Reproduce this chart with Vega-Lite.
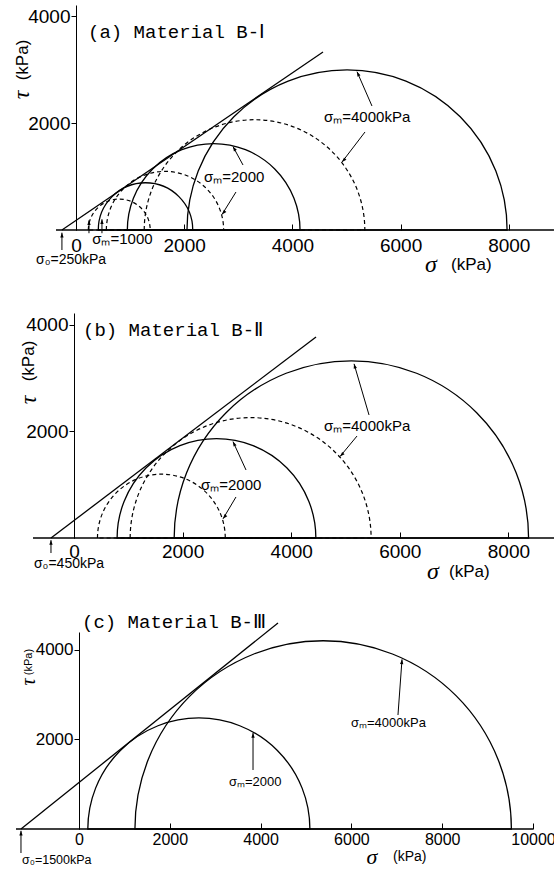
{
  "$schema": "https://vega.github.io/schema/vega-lite/v6.json",
  "background": "white",
  "padding": {"left": 10, "top": 5, "right": 0, "bottom": 0},
  "bounds": "flush",
  "spacing": 83,
  "config": {
    "view": {"stroke": null},
    "axis": {"labelFont": "Liberation Sans", "labelColor": "black", "tickColor": "black", "domainColor": "black", "grid": false, "labelFlush": false, "labelOverlap": false, "title": null, "format": "d"},
    "text": {"font": "Liberation Sans", "color": "black"}
  },
  "vconcat": [
    {
      "width": 544,
      "height": 225,
      "encoding": {
        "x": {"field": "x", "type": "quantitative", "scale": {"domain": [-1109, 8946.4], "nice": false, "zero": false},
              "axis": {"values": [0, 2000, 4000, 6000, 8000], "domain": false, "tickSize": -6, "labelFontSize": 19, "labelPadding": 12}},
        "y": {"field": "y", "type": "quantitative", "scale": {"domain": [0, 4206], "nice": false, "zero": false},
              "axis": {"values": [2000, 4000], "offset": -60, "domain": true, "tickSize": 5, "labelFontSize": 19, "labelPadding": 1}}
      },
      "layer": [
        {"data": {"values": [{"x": -370, "y": 0, "x2": 8835}]},
         "mark": {"type": "rule", "color": "black", "strokeWidth": 1.3},
         "encoding": {"x2": {"field": "x2"}}},
        {"data": {"values": [
          {"x": 5010, "y": 0, "r": 2975},
          {"x": 2545, "y": 0, "r": 1605},
          {"x": 1285, "y": 0, "r": 878}]},
         "mark": {"type": "arc", "theta": -1.5707963, "theta2": 1.5707963, "filled": false, "color": "black", "strokeWidth": 1.3},
         "encoding": {
           "radius": {"field": "r", "type": "quantitative", "stack": null, "scale": {"type": "linear", "domain": [0, 1000], "range": [0, 53.8], "zero": true, "nice": false}}}},
        {"data": {"values": [
          {"x": 3300, "y": 0, "r": 2050},
          {"x": 1645, "y": 0, "r": 1090},
          {"x": 800, "y": 0, "r": 575}]},
         "mark": {"type": "arc", "theta": -1.5707963, "theta2": 1.5707963, "filled": false, "color": "black", "strokeWidth": 1.2, "strokeDash": [4, 3]},
         "encoding": {
           "radius": {"field": "r", "type": "quantitative", "stack": null, "scale": {"type": "linear", "domain": [0, 1000], "range": [0, 53.8], "zero": true, "nice": false}}}},
        {"data": {"values": [{"x": -260, "y": 0, "x2": 4566, "y2": 3327}]},
         "mark": {"type": "rule", "color": "black", "strokeWidth": 1.3},
         "encoding": {"x2": {"field": "x2"}, "y2": {"field": "y2"}}},
        {"data": {"values": [
          {"x": 5471, "y": 2318, "x2": 5194, "y2": 2960},
          {"x": 5342, "y": 1832, "x2": 4917, "y2": 1270},
          {"x": 3087, "y": 1215, "x2": 2902, "y2": 1560},
          {"x": 2957, "y": 710, "x2": 2699, "y2": 290},
          {"x": 240, "y": -60, "x2": 240, "y2": 180},
          {"x": 480, "y": -60, "x2": 480, "y2": 200},
          {"x": -260, "y": -374, "x2": -260, "y2": -50}]},
         "mark": {"type": "rule", "color": "black", "strokeWidth": 1},
         "encoding": {"x2": {"field": "x2"}, "y2": {"field": "y2"}}},
        {"data": {"values": [
          {"x": 5194, "y": 2960, "angle": -25},
          {"x": 4917, "y": 1270, "angle": -137},
          {"x": 2902, "y": 1560, "angle": -30},
          {"x": 2699, "y": 290, "angle": -139},
          {"x": 240, "y": 180, "angle": 0},
          {"x": 480, "y": 200, "angle": 0},
          {"x": -260, "y": -50, "angle": 0}]},
         "mark": {"type": "point", "shape": "M0,0L0.35,1L-0.35,1Z", "filled": true, "color": "black", "size": 90, "opacity": 1},
         "encoding": {"angle": {"field": "angle", "type": "quantitative", "scale": null}}},
        {"data": {"values": [{"x": 222, "y": 3701, "text": "(a) Material B-Ⅰ"}]},
         "mark": {"type": "text", "font": "Liberation Mono", "fontSize": 19, "align": "left", "baseline": "middle"},
         "encoding": {"text": {"field": "text"}}},
        {"data": {"values": [
          {"x": 4584, "y": 2112, "text": "σₘ=4000kPa"},
          {"x": 2366, "y": 991, "text": "σₘ=2000"},
          {"x": 300, "y": -168, "text": "σₘ=1000"}]},
         "mark": {"type": "text", "fontSize": 15, "align": "left", "baseline": "middle"},
         "encoding": {"text": {"field": "text"}}},
        {"data": {"values": [{"x": -739, "y": -560, "text": "σ₀=250kPa"}]},
         "mark": {"type": "text", "fontSize": 14, "align": "left", "baseline": "middle"},
         "encoding": {"text": {"field": "text"}}},
        {"data": {"values": [{"x": 6562, "y": -654, "text": "σ"}]},
         "mark": {"type": "text", "font": "Liberation Serif", "fontStyle": "italic", "fontSize": 24, "align": "center", "baseline": "middle"},
         "encoding": {"text": {"field": "text"}}},
        {"data": {"values": [{"x": 6932, "y": -654, "text": "(kPa)"}]},
         "mark": {"type": "text", "fontSize": 17, "align": "left", "baseline": "middle"},
         "encoding": {"text": {"field": "text"}}},
        {"data": {"values": [{"x": -998, "y": 2523, "text": "τ"}]},
         "mark": {"type": "text", "font": "Liberation Serif", "fontStyle": "italic", "fontSize": 24, "angle": 270, "align": "center", "baseline": "middle"},
         "encoding": {"text": {"field": "text"}}},
        {"data": {"values": [{"x": -980, "y": 3178, "text": "(kPa)"}]},
         "mark": {"type": "text", "fontSize": 17, "angle": 270, "align": "center", "baseline": "middle"},
         "encoding": {"text": {"field": "text"}}}
      ]
    },
    {
      "bounds": "flush",
      "spacing": 94,
      "vconcat": [
        {
          "width": 544,
          "height": 225,
          "encoding": {
            "x": {"field": "x", "type": "quantitative", "scale": {"domain": [-1068, 8950], "nice": false, "zero": false},
                  "axis": {"values": [0, 2000, 4000, 6000, 8000], "domain": false, "tickSize": -6, "labelFontSize": 19, "labelPadding": 10}},
            "y": {"field": "y", "type": "quantitative", "scale": {"domain": [0, 4225], "nice": false, "zero": false},
                  "axis": {"values": [2000, 4000], "offset": -58, "domain": true, "tickSize": 5, "labelFontSize": 19, "labelPadding": 1}}
          },
          "layer": [
            {"data": {"values": [{"x": -755, "y": 0, "x2": 8950}]},
             "mark": {"type": "rule", "color": "black", "strokeWidth": 1.3},
             "encoding": {"x2": {"field": "x2"}}},
            {"data": {"values": [
              {"x": 5108, "y": 0, "r": 3295},
              {"x": 2624, "y": 0, "r": 1848}]},
             "mark": {"type": "arc", "theta": -1.5707963, "theta2": 1.5707963, "filled": false, "color": "black", "strokeWidth": 1.3},
             "encoding": {
               "radius": {"field": "r", "type": "quantitative", "stack": null, "scale": {"type": "linear", "domain": [0, 1000], "range": [0, 53.78], "zero": true, "nice": false}}}},
            {"data": {"values": [
              {"x": 3253, "y": 0, "r": 2240},
              {"x": 1609, "y": 0, "r": 1188}]},
             "mark": {"type": "arc", "theta": -1.5707963, "theta2": 1.5707963, "filled": false, "color": "black", "strokeWidth": 1.2, "strokeDash": [4, 3]},
             "encoding": {
               "radius": {"field": "r", "type": "quantitative", "stack": null, "scale": {"type": "linear", "domain": [0, 1000], "range": [0, 53.78], "zero": true, "nice": false}}}},
            {"data": {"values": [{"x": -424, "y": 0, "x2": 4457, "y2": 3775}]},
             "mark": {"type": "rule", "color": "black", "strokeWidth": 1.3},
             "encoding": {"x2": {"field": "x2"}, "y2": {"field": "y2"}}},
            {"data": {"values": [
              {"x": 5433, "y": 2310, "x2": 5157, "y2": 3270},
              {"x": 5212, "y": 1915, "x2": 4899, "y2": 1530},
              {"x": 3168, "y": 1277, "x2": 2928, "y2": 1810},
              {"x": 2983, "y": 770, "x2": 2744, "y2": 360},
              {"x": -424, "y": -282, "x2": -424, "y2": -40}]},
             "mark": {"type": "rule", "color": "black", "strokeWidth": 1},
             "encoding": {"x2": {"field": "x2"}, "y2": {"field": "y2"}}},
            {"data": {"values": [
              {"x": 5157, "y": 3270, "angle": -16},
              {"x": 4899, "y": 1530, "angle": -135},
              {"x": 2928, "y": 1810, "angle": -26},
              {"x": 2744, "y": 360, "angle": -141},
              {"x": -424, "y": -40, "angle": 0}]},
             "mark": {"type": "point", "shape": "M0,0L0.35,1L-0.35,1Z", "filled": true, "color": "black", "size": 90, "opacity": 1},
             "encoding": {"angle": {"field": "angle", "type": "quantitative", "scale": null}}},
            {"data": {"values": [{"x": 166, "y": 3906, "text": "(b) Material B-Ⅱ"}]},
             "mark": {"type": "text", "font": "Liberation Mono", "fontSize": 19, "align": "left", "baseline": "middle"},
             "encoding": {"text": {"field": "text"}}},
            {"data": {"values": [
              {"x": 4604, "y": 2103, "text": "σₘ=4000kPa"},
              {"x": 2339, "y": 995, "text": "σₘ=2000"}]},
             "mark": {"type": "text", "fontSize": 15, "align": "left", "baseline": "middle"},
             "encoding": {"text": {"field": "text"}}},
            {"data": {"values": [{"x": -737, "y": -490, "text": "σ₀=450kPa"}]},
             "mark": {"type": "text", "fontSize": 14, "align": "left", "baseline": "middle"},
             "encoding": {"text": {"field": "text"}}},
            {"data": {"values": [{"x": 6611, "y": -638, "text": "σ"}]},
             "mark": {"type": "text", "font": "Liberation Serif", "fontStyle": "italic", "fontSize": 24, "align": "center", "baseline": "middle"},
             "encoding": {"text": {"field": "text"}}},
            {"data": {"values": [{"x": 6906, "y": -638, "text": "(kPa)"}]},
             "mark": {"type": "text", "fontSize": 17, "align": "left", "baseline": "middle"},
             "encoding": {"text": {"field": "text"}}},
            {"data": {"values": [{"x": -829, "y": 2592, "text": "τ"}]},
             "mark": {"type": "text", "font": "Liberation Serif", "fontStyle": "italic", "fontSize": 24, "angle": 270, "align": "center", "baseline": "middle"},
             "encoding": {"text": {"field": "text"}}},
            {"data": {"values": [{"x": -829, "y": 3324, "text": "(kPa)"}]},
             "mark": {"type": "text", "fontSize": 17, "angle": 270, "align": "center", "baseline": "middle"},
             "encoding": {"text": {"field": "text"}}}
          ]
        },
        {
          "width": 544,
          "height": 197,
          "encoding": {
            "x": {"field": "x", "type": "quantitative", "scale": {"domain": [-1387.7, 10594.7], "nice": false, "zero": false},
                  "axis": {"values": [0, 2000, 4000, 6000, 8000, 10000], "domain": false, "tickSize": -6, "labelFontSize": 16, "labelPadding": 8}},
            "y": {"field": "y", "type": "quantitative", "scale": {"domain": [0, 4390], "nice": false, "zero": false},
                  "axis": {"values": [2000, 4000], "offset": -63, "domain": true, "tickSize": 5, "labelFontSize": 17, "labelPadding": 1}}
          },
          "layer": [
            {"data": {"values": [{"x": -1388, "y": 0, "x2": 10000}]},
             "mark": {"type": "rule", "color": "black", "strokeWidth": 1.3},
             "encoding": {"x2": {"field": "x2"}}},
            {"data": {"values": [
              {"x": 5378, "y": 0, "r": 4170},
              {"x": 2640, "y": 0, "r": 2460}]},
             "mark": {"type": "arc", "theta": -1.5707963, "theta2": 1.5707963, "filled": false, "color": "black", "strokeWidth": 1.3},
             "encoding": {
               "radius": {"field": "r", "type": "quantitative", "stack": null, "scale": {"type": "linear", "domain": [0, 1000], "range": [0, 45.14], "zero": true, "nice": false}}}},
            {"data": {"values": [{"x": -1278, "y": 0, "x2": 4383, "y2": 4590}]},
             "mark": {"type": "rule", "color": "black", "strokeWidth": 1.3},
             "encoding": {"x2": {"field": "x2"}, "y2": {"field": "y2"}}},
            {"data": {"values": [
              {"x": 3833, "y": 1315, "x2": 3833, "y2": 2140},
              {"x": 7026, "y": 2540, "x2": 7115, "y2": 3780},
              {"x": -1278, "y": -535, "x2": -1278, "y2": -40}]},
             "mark": {"type": "rule", "color": "black", "strokeWidth": 1},
             "encoding": {"x2": {"field": "x2"}, "y2": {"field": "y2"}}},
            {"data": {"values": [
              {"x": 3833, "y": 2140, "angle": 0},
              {"x": 7115, "y": 3780, "angle": 4},
              {"x": -1278, "y": -40, "angle": 0}]},
             "mark": {"type": "point", "shape": "M0,0L0.35,1L-0.35,1Z", "filled": true, "color": "black", "size": 90, "opacity": 1},
             "encoding": {"angle": {"field": "angle", "type": "quantitative", "scale": null}}},
            {"data": {"values": [{"x": 66, "y": 4612, "text": "(c) Material B-Ⅲ"}]},
             "mark": {"type": "text", "font": "Liberation Mono", "fontSize": 19, "align": "left", "baseline": "middle"},
             "encoding": {"text": {"field": "text"}}},
            {"data": {"values": [
              {"x": 3304, "y": 1047, "text": "σₘ=2000"},
              {"x": 5991, "y": 2362, "text": "σₘ=4000kPa"}]},
             "mark": {"type": "text", "fontSize": 13, "align": "left", "baseline": "middle"},
             "encoding": {"text": {"field": "text"}}},
            {"data": {"values": [{"x": -1256, "y": -691, "text": "σ₀=1500kPa"}]},
             "mark": {"type": "text", "fontSize": 12.5, "align": "left", "baseline": "middle"},
             "encoding": {"text": {"field": "text"}}},
            {"data": {"values": [{"x": 6454, "y": -624, "text": "σ"}]},
             "mark": {"type": "text", "font": "Liberation Serif", "fontStyle": "italic", "fontSize": 22, "align": "center", "baseline": "middle"},
             "encoding": {"text": {"field": "text"}}},
            {"data": {"values": [{"x": 6916, "y": -624, "text": "(kPa)"}]},
             "mark": {"type": "text", "fontSize": 14, "align": "left", "baseline": "middle"},
             "encoding": {"text": {"field": "text"}}},
            {"data": {"values": [{"x": -1101, "y": 3275, "text": "τ"}]},
             "mark": {"type": "text", "font": "Liberation Serif", "fontStyle": "italic", "fontSize": 20, "angle": 270, "align": "center", "baseline": "middle"},
             "encoding": {"text": {"field": "text"}}},
            {"data": {"values": [{"x": -1101, "y": 3721, "text": "(kPa)"}]},
             "mark": {"type": "text", "fontSize": 11, "angle": 270, "align": "center", "baseline": "middle"},
             "encoding": {"text": {"field": "text"}}}
          ]
        }
      ]
    }
  ]
}
